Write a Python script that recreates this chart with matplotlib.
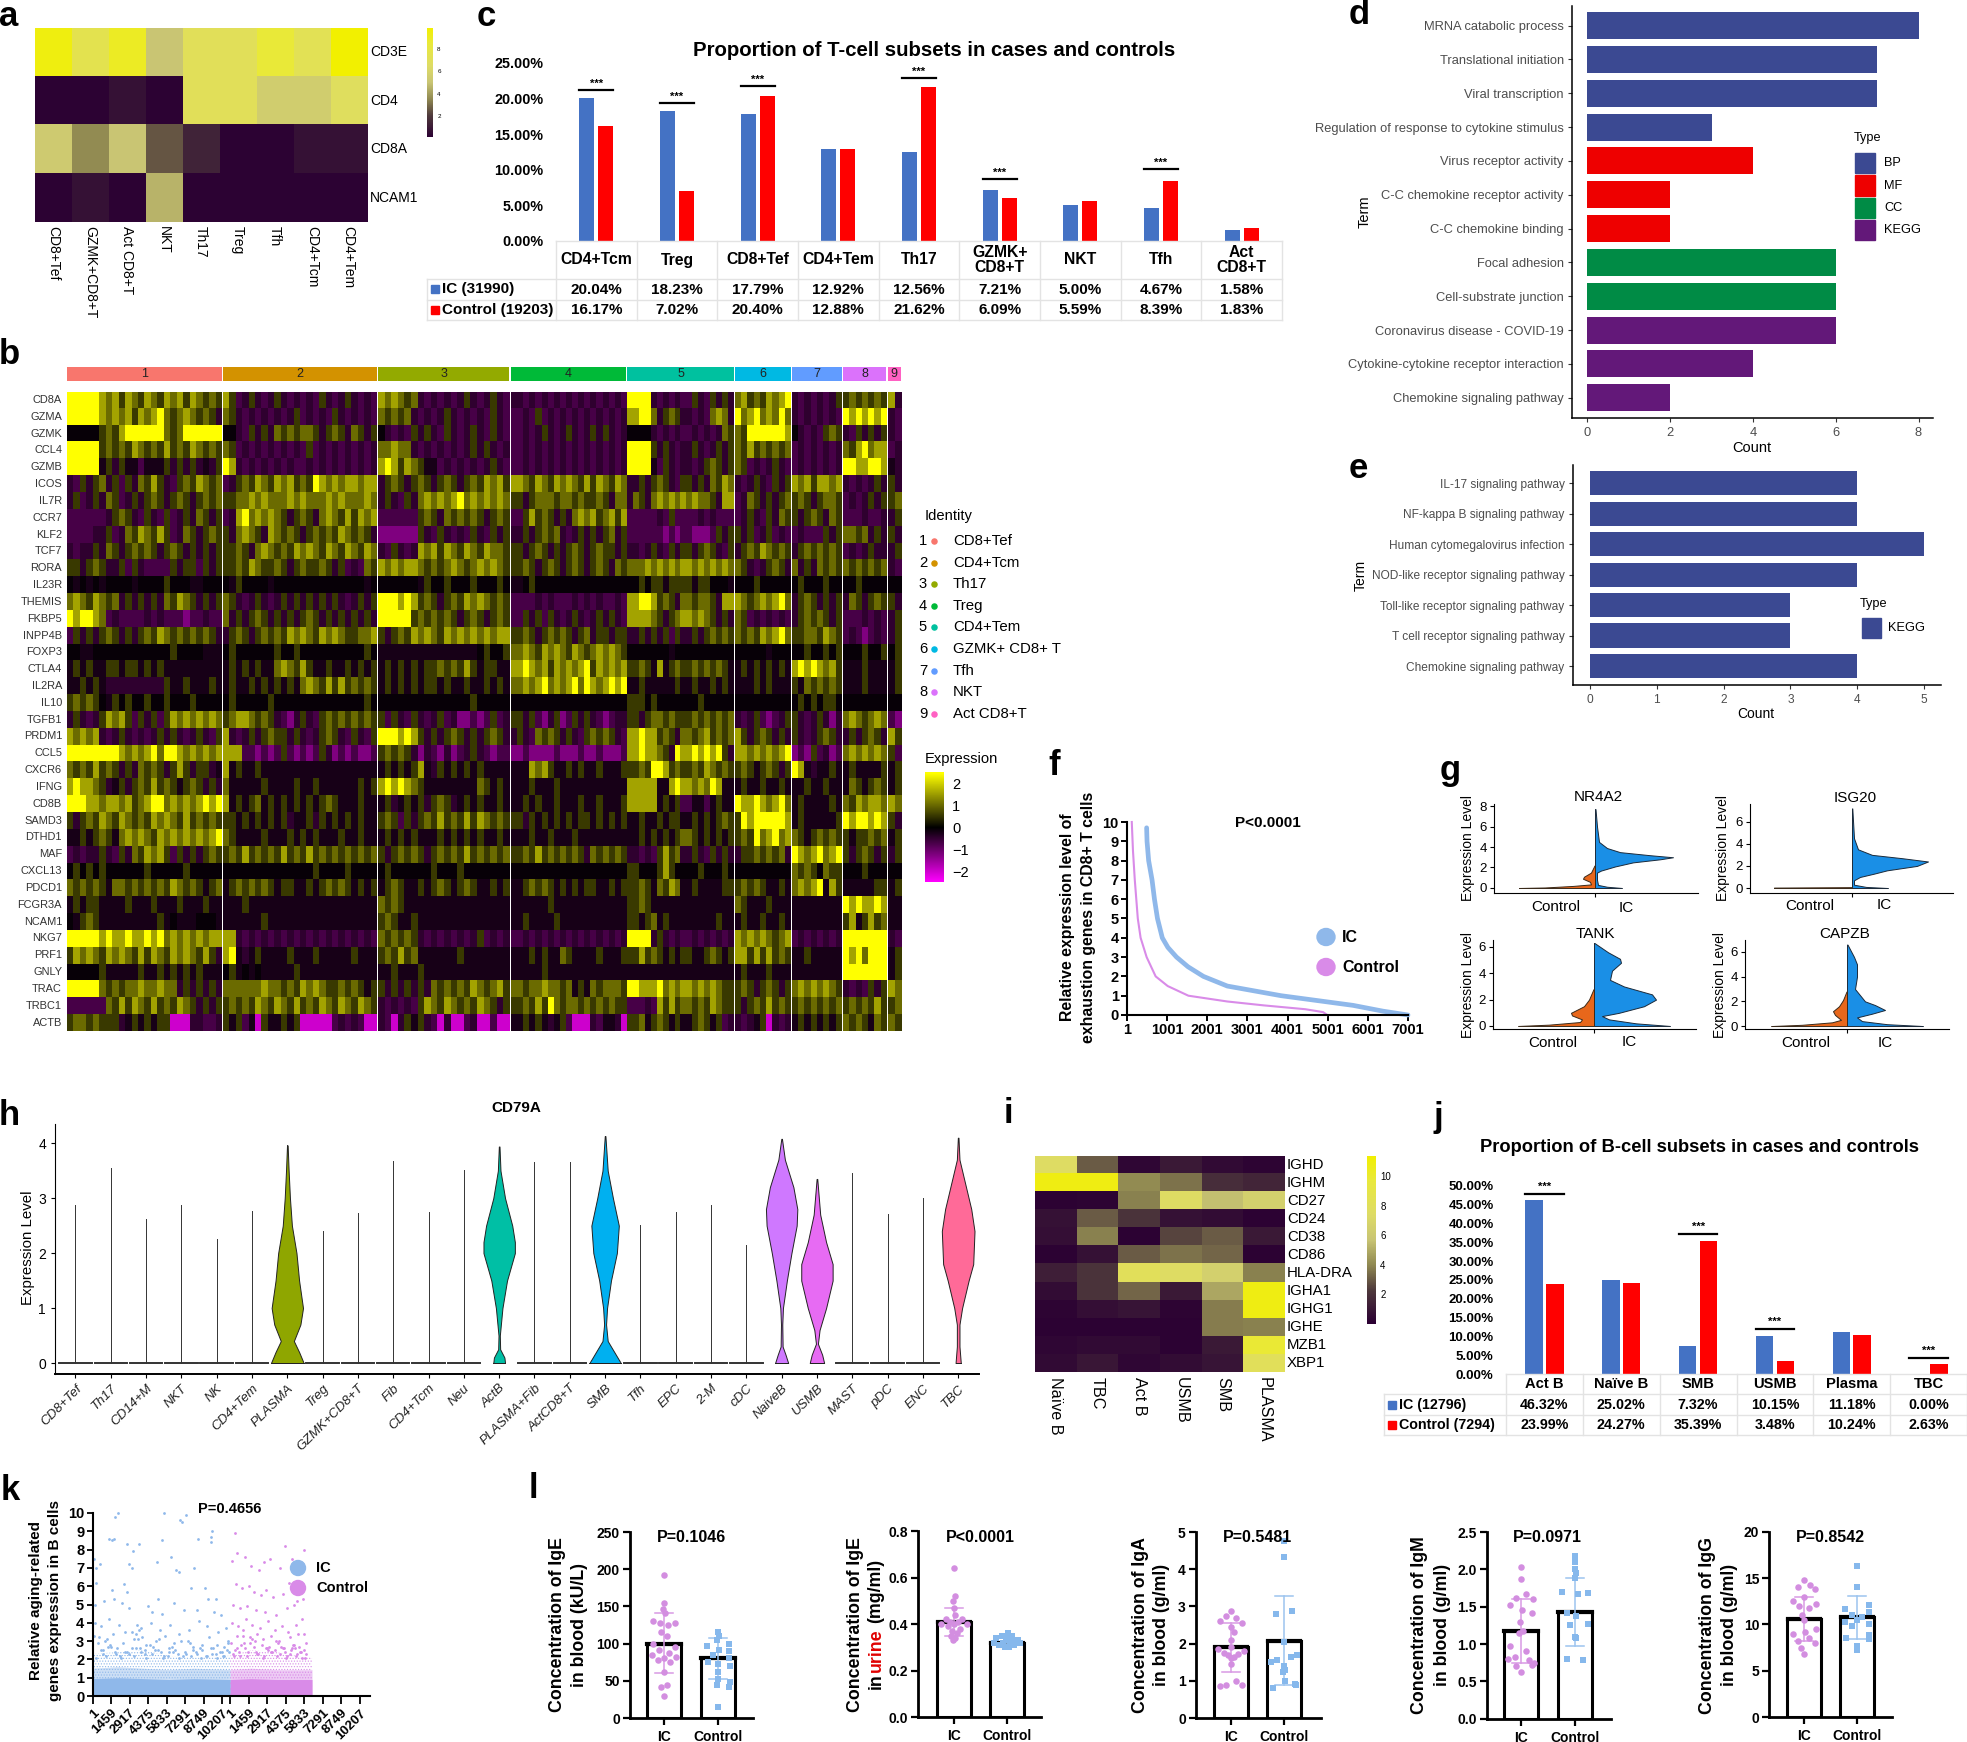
import numpy as np
import matplotlib
matplotlib.use('Agg')
import matplotlib.pyplot as plt
from matplotlib.colors import LinearSegmentedColormap
from matplotlib.patches import Rectangle, Ellipse

plt.rcParams['font.family'] = ['Liberation Sans', 'DejaVu Sans']
plt.rcParams['hatch.linewidth'] = .5

W, H = 1967, 1742
BLUE, RED = '#4472c4', '#ff0000'

# panel a
a_cols = ['CD8+Tef', 'GZMK+CD8+T', 'Act CD8+T', 'NKT', 'Th17', 'Treg', 'Tfh', 'CD4+Tcm', 'CD4+Tem']
a_genes = ['CD3E', 'CD4', 'CD8A', 'NCAM1']
a_vals = [[9.5, 7.5, 9.0, 5.0, 7.0, 7.0, 8.5, 7.2, 9.9],
          [0.1, 0.1, 0.6, 0.1, 7.0, 7.0, 5.5, 5.5, 6.8],
          [5.3, 3.5, 5.0, 2.5, 1.2, 0.1, 0.1, 0.6, 0.6],
          [0.1, 0.6, 0.1, 4.5, 0.1, 0.1, 0.1, 0.1, 0.1]]

# panel c
c_cats = ['CD4+Tcm', 'Treg', 'CD8+Tef', 'CD4+Tem', 'Th17', 'GZMK+\nCD8+T', 'NKT', 'Tfh', 'Act\nCD8+T']
c_ic = [20.04, 18.23, 17.79, 12.92, 12.56, 7.21, 5.00, 4.67, 1.58]
c_ctrl = [16.17, 7.02, 20.40, 12.88, 21.62, 6.09, 5.59, 8.39, 1.83]
c_sig_pos = [0, 1, 2, 4, 5, 7]
c_sig_y = [21.2, 19.4, 21.8, 22.9, 8.7, 10.1]

# panel d / e
d_terms = ['MRNA catabolic process', 'Translational initiation', 'Viral transcription',
           'Regulation of response to cytokine stimulus', 'Virus receptor activity',
           'C-C chemokine receptor activity', 'C-C chemokine binding', 'Focal adhesion',
           'Cell-substrate junction', 'Coronavirus disease - COVID-19',
           'Cytokine-cytokine receptor interaction', 'Chemokine signaling pathway']
d_counts = [8, 7, 7, 3, 4, 2, 2, 6, 6, 6, 4, 2]
d_types = ['BP', 'BP', 'BP', 'BP', 'MF', 'MF', 'MF', 'CC', 'CC', 'KEGG', 'KEGG', 'KEGG']
type_colors = {'BP': '#3b4992', 'MF': '#ee0000', 'CC': '#008b45', 'KEGG': '#631879'}
e_terms = ['IL-17 signaling pathway', 'NF-kappa B signaling pathway', 'Human cytomegalovirus infection',
           'NOD-like receptor signaling pathway', 'Toll-like receptor signaling pathway',
           'T cell receptor signaling pathway', 'Chemokine signaling pathway']
e_counts = [4, 4, 5, 4, 3, 3, 4]

# panel b, one string per gene, one group per cluster, read by eye from the crops
b_genes = ['CD8A', 'GZMA', 'GZMK', 'CCL4', 'GZMB', 'ICOS', 'IL7R', 'CCR7', 'KLF2', 'TCF7', 'RORA', 'IL23R',
           'THEMIS', 'FKBP5', 'INPP4B', 'FOXP3', 'CTLA4', 'IL2RA', 'IL10', 'TGFB1', 'PRDM1', 'CCL5', 'CXCR6',
           'IFNG', 'CD8B', 'SAMD3', 'DTHD1', 'MAF', 'CXCL13', 'PDCD1', 'FCGR3A', 'NCAM1', 'NKG7', 'PRF1',
           'GNLY', 'TRAC', 'TRBC1', 'ACTB']
b_rows = [
 'YYYYYyoybyobyobyoybyobob ybpdbdpdbdpdpdpbdpdbdpdp yoyobodpdpdpdbdpdbdp dpdpdpdpdpdpdpdpdp YYYdpdpdpbdpbdbd oybobyoyY dpdpdpdb bobobob yd',
 'YYYYYyoyoybyoyYoboyobobd obdpdpdpdpdbpdpdpbdpdpdp obobodpdpdbdpdpdpbdp pdpbpdpdpdpdpdpdpd yYYodbobdpdpoyod YoyYoyoYo dpdpdpdp YyYyYyY dp',
 'kkkkkbobyYYYYYYoboYYYYYY kkdpbdbdoboboobdbobdobdb kdpdpbdbdpbdpdbdpbdp pdpdbdpdbdpdbdbdpd kkkdpdpdpdpdpdob obYYYYYYy kdpdpbob dpbdbdb dp',
 'YYYYYbobobyobobybobyobob obpdpdpdpdpdpbpdpdpdpdpd ooyoodpdpdpdpdbdbdpd pdpdpdpdpdpdpdpdpd YYYbdbdpdbdpdbdb obybobobo pdpdpdpd obyYoyy pd',
 'YYYYYnbdbnnpnnnbdbdbdndb Yydpdpdpdpdppdpdpdpdpdpd yYybyobnnpdpdpdpdbdp pdpdpdpdpdpdpdpdpd YYYnpbdpdpdbobdb obpdpdbdp pdpdpdpd YYyyYYy nd',
 'dpbdbodbpbdobybdpbobyobo pdbobyobyoybobYyoyoyyoyy dbobdbobdbobdbobyoyb yobyobyoyobybyobyo dbdbobdpbdbdobyo dpdbdpbdb yoybyyoy dpdpdbd bd',
 'dbpdbdobpdbdbobdbobdbobo bbooyoyoooyoyoooyoyoooyo dbdpbdoyoyoyYoyoyoyo bdboooboobobbobdoo dobdoyoyoyoyoobdyy pdobdbdbo bobdboob pdpdbdb bo',
 'ppppppdbobdpbdpbpdbdobdb pdyYoyoyobdbobdoyobybyoy ppppppbobdobobobdbob pbybobdbdoyoyboyby ppppdpbpppdpdppp pdbdpbdob bdbobdob pppdppd db',
 'ppppddbpdobyobybpdobdbob bdoyobdyobobdbobobyobobd mmmmmmbdpbdpdpbdpbdb dbdbobodpdbdbdbodb pppppmpmpmmmpbdb bdbpdbpdp pdpppbdb oobodbd bd',
 'dpddbdobdbobobdbobdbdbdb bobdoyobobyoyobyobyobyo dpbdpdyoybyobyobyoob bdbobdbdbobdbobbdb dpdbdpbdbdbobdpb dbobyobob dbobobob pdpdbdd db',
 'bdbobdbpbdpppbdbpbdb bobyobbobdbobbobdbpdpob yoyoyyoboboyoboyoyob bobdbobdbobdbobdob ooyoyoyoyoyoyoyo obdpdbobd odbdobob obobobo dp',
 'knknknkkkknkkkkbkkknnkkk knbkkkknkkkkkkkkkkkkkknk kkkkkknbkkbkkkbkkkbk nkbkkkkkkkkkkkkkkk kbkbbnbbbnbbkkkn kkkbkkkkk kbkkkbkk kkbkkkk kk',
 'oyobyobodbdbdbdobyobdbdb obdpdbdpdbdbdbdbdbdpdbdb YYYyYybobdbobyoyobob pppdpdpppdpdpdppdp yYYybobdoboobdyy yoboyoyYo dbobdbdb dobdbob bd',
 'YyYYyopdppppdpdpppmppdpp odbdbobdbdbdbobdbdbdbdbd YYYYYbobobobdbobdbob pbdbpbdpdbdpdbdbdp yyyobdboyoyobdbd obpdpdpdp dbobobdb pppdpdp db',
 'pbdbdbobdbdbobyobobobobd dbobdbobobyoyobyoyobbooy bdbobyoyobyoyoyoyoyy bobdbobobdbodbbdbb dbdbdbpbdbdbobob obobyoyYo bboobyob pdpmpdp db',
 'kknnkkkkkkkkkkkkbkkkknnn kbkkkkkkbkkbkkkkkkkkkkbk nnnnnnnnnnnnnnnkbkkb oyobyoyobyoboyoyob kkkkkknkkkkkkkkk kkkkknkkk kkbkkbkb kkkbkkb kb',
 'nbnbnnbbnbbnbnbnnnnnnnnn nbnbnbnnoyobybnnbnnbnbnb nbnbnbnbbobobybnbbnn yYyoybyoyoyYbyoyoy bobnynbobobobobn nbnbnbnbn yYyYyoyb nnnbnnn nb',
 'nnbnbndddddddddbnnbnnnbn nbnnbnbnbnbnoyobybybobob nbnbnbnbbnbnnbnnbnbn oyoyYoyoyYoYyoyYyY nbnnnnnbnbnnbnbn nnnbnbnnn bnobobob nnnbnnn nb',
 'bobobknbkbkkbkkbkkkbkkkk kbkkkkkbkkkkkkkkkkkkkkbk kkkkkkkkkkkkkkbkkkkk kkkkkkkkkkkkkkkkkk bbkbkkkkkkbkkkkk kkkkkkkkk kbkbkbbk kkkkkkk kk',
 'dbdpdbyoybpbdbpbyoyoyoyo boyyobobdpmdbdpbobobobob bpbdpbdpdbpdmmpmpbpd bdbpmdbmpbdbdpmpdd bdboobobbobobobo dpdbpmpdb bdpdbdmd oyoboyo pm',
 'yoyoydpdbdpdpdbdbdpdbdpb ydpdbdbobbdbdpdbobdpbdpb YYYyYybdbdbobdbdbobd dbdpobobdbdpbobobdp yYyybobdoboybobo ybdbobdbd bdpdbobd dbdbobd yb',
 'YYYYYYYYyoyoyYoYYyoyoyoy yyyppmpmpbpmpmpbdmpmpmmp bobobdmdpmdmpdbdpmpp mpmmmmpmmmpmmpmmmp yYyyobdYyYyYyYbd yyoyoyoyY mpmbpdmp oyoyoyo bp',
 'obobybobdbdobobdbybdbbdn ynbnnbnnnnnnnnnnnnnnnnnn nbnbnbyndbnbnbnbnnnn nnyoybnnbnbnnbnnnb bobYYybobobyobob bobnbobdb Yyndnnbn nbnnnnb nb',
 'yYyyobdnbdbobybobnbobdbd onnnnnbnnnnbnnbnnnnnnbnb yYyYyobnnnnnnnnobnbn nnbnnnbnnnnnnnnnnn yyyynnyYyoyoYynn nbnnbnnbn nnbnnbnn nobnbob nb',
 'YYYyyoyyoyboyYYoyoyoyYyY ynbnbonbnbnbnbnbobnnnbnn nbdnbnbdbobdnbnbnnbn nbnbnnbnnnbnnbnnnb yyyynbnbpnnpnbnn YyyYyoyYo nbnnnnbn obyoyyo yo',
 'bdbobyobyobobyoyobybobob bbnbnbnbnbdnnbdbnbnbnbnn bobpbdbobybobybyobob bdbnbnbnbnbbnbnbnb nbnnbnbbnbnbnbob bYyYYYYYy nbnnnnnb YyYYyYy bd',
 'nbnbobnoyoyobyoyoyoyoyY obnnnnbnnnbnbnbnnnbnnbnn nbnbnbnnnbnbnbnbnnbn nnbnnbnnnbnnnnnnnn nbnbnbnbobnbnbnb bobYoyYoy obnbobob bnbbobo nb',
 'pdpddbdpbdobyoybpbdbdbob bobybobobybobybobobobobo bdbobobdbobobybobobo bobybobobobdobobob dpdpbybodbdpbdbd dbbobobod YyoyYoyY bdbobdb db',
 'kbkbkbkkkkkkbkkkkkbkkkkk kkkkkkkkkkkkkkbkkkkbkkkk kbkkkkkkbkkkbkkkkkkk kkkkkkkkkkkkkkkkkk bkkkbybkkkbkkkbk kkkkkkkkk obobkobb kkkbkkk kk',
 'obobobnoobobobobyobobnbo nbobobobnbbnnbnbobobnbnb nbobnnbnbobnbobnnbnb nbobobnbnbnbbnnbnb bobnobyonbnnnnbb bobobnnbn oyoyYnyb nnnnnbb nb',
 'nbnbbnnnnbnnnbnnnbnnnbnn nnnbnnnnnnnnnnnnnnnnnnnn obobnnnnnnnnnnnnnnnn nnnnnbnnnnnnnnnnnn bobnnnnnnnnnnnnn obnnnbnnn nnnnnnnn YyYyyYy nn',
 'knbobnnnnnnnnnbnknnnkkkn nnnnnnbnnnnnnnnnnnnnnnnn bobnnbnnnnnnnnnnnnnn nbnnnnbnnnnnnnnnnn bnbonbnnnnnnnbnn nbnnbnnbn nnnnnnnn bynbybo nn',
 'YYYYYyYyyYyyYyYoyoyoyoyy yydpdpdpdpdpdpdpdpdpdpdp obobobdpdpdpdpdbpdpd pdpdpdpdpdpdpdpdpd YYYdbdpdpdpdpdpd yoyoyoboy pdpdpdpd YYYYYYY dp',
 'byoyobyoyobybyobyoyobybd yYndnbnnnnbnnnbnnnnnbnnn bobybonnnnnnbnnnnnnn nnbnbnnobnnnnbnnnb bybobnbnbnnbobnb ybybybob nnbnnnnn YyYoYYY nb',
 'kkkkkbnnnnnbnnbnbnbnbnnn kbnknknnnnnbnnnnnnnnnnnn nnbnnnbnnnnnnnnnnnnn nnnnbnnnnnnnnnnnnn nnnnnnnnnnnnnnnn nbnnnbnnn nnnnnnnn YYYYYYY nb',
 'YYYYYobobooyooyoodbdbdbd oooooyoobobyoyobbobobnb bdbdbdbdobobobyoboyb obooyoobonbnobooob YyyyYoyoyoyoyobb bobdbobdb oyoyoyob dpdpbdb yo',
 'ppppppobybyobybobyobdbdb bobobyobyobybobyobyobyob dpdpdpbyobyobobyobdb bobybYobobobobobb ppdpybybobobyobb bdbobybob bobobobo bobobyb bo',
 'boobobbbdnbnbnbbMMMddppd bnbpnMbnnbnbMMMMMpdpdpMM dpMdbnbdpMdMMpdMMpMM nbnbndnbpMMMdpnndM bonbobnbnbobnbpd dpdnbMdpd nbnbnbnb obobnob ob',
]
b_levels = {'M': -2.0, 'm': -1.25, 'p': -0.7, 'd': -0.45, 'n': -0.22, 'k': -0.07, 'b': 0.55, 'o': 1.05, 'y': 1.6, 'Y': 2.5}
b_widths = [219, 218, 186, 163, 151, 79, 70, 61, 19]
b_strip = ['#F8766D', '#D39200', '#93AA00', '#00BA38', '#00C19F', '#00B9E3', '#619CFF', '#DB72FB', '#FF61C3']
b_ident = ['CD8+Tef', 'CD4+Tcm', 'Th17', 'Treg', 'CD4+Tem', 'GZMK+ CD8+ T', 'Tfh', 'NKT', 'Act CD8+T']

# panel f
f_ic_y = [9.7, 9.0, 8.0, 7.0, 6.0, 5.0, 4.0, 3.5, 3.0, 2.5, 2.0, 1.5, 1.0, 0.5, 0.2, 0.0]
f_ic_x = [490, 500, 540, 625, 685, 760, 880, 1020, 1235, 1520, 1905, 2500, 3840, 5630, 6375, 7001]
f_ct_y = [10, 8.5, 7.0, 5.0, 4.0, 3.0, 2.0, 1.5, 1.0, 0.7, 0.5, 0.3, 0.15, 0.0]
f_ct_x = [120, 150, 195, 270, 340, 490, 715, 1015, 1530, 2500, 3400, 4440, 4885, 4990]

# panel g, half widths of the violins
g_names = ['NR4A2', 'ISG20', 'TANK', 'CAPZB']
g_ic_y = [[0, .12, .3, .8, 1.5, 1.7, 2.1, 2.5, 2.8, 3.0, 3.2, 3.5, 3.9, 4.5, 6, 7.7],
          [0, .1, .3, .7, 1, 1.3, 1.6, 2, 2.4, 2.7, 3, 3.5, 4.5, 7.2],
          [0, .2, .5, .75, 1, 1.5, 2, 2.4, 3, 3.5, 4.2, 4.8, 5.1, 5.6, 6.3],
          [0, .15, .4, .7, 1, 1.3, 1.7, 2, 3, 4, 5, 5.6, 6.6]]
g_ic_w = [[27, 12, 3, 2, 2, 6, 20, 38, 65, 78, 55, 25, 12, 4, 2, .5],
          [36, 14, 2, 2, 8, 22, 35, 65, 76, 50, 20, 6, 2, .3],
          [76, 42, 15, 8, 25, 50, 62, 58, 30, 16, 18, 27, 26, 14, .5],
          [76, 40, 15, 10, 25, 38, 28, 18, 8, 10, 10, 7, .5]]
g_ct_y = [[0, .05, .2, .35, .6, .9, 1.1, 1.5, 2.2],
          [0, .04, .08],
          [0, .1, .3, .5, .8, 1, 1.5, 2, 2.8],
          [0, .1, .3, .5, .9, 1.2, 1.6, 2.1, 2.8]]
g_ct_w = [[76, 50, 22, 4, 5, 12, 11, 4, .5],
          [78, 78, 0],
          [76, 45, 14, 12, 22, 23, 10, 5, .5],
          [76, 45, 15, 6, 12, 14, 8, 4, .5]]

# panel h
h_cats = ['CD8+Tef', 'Th17', 'CD14+M', 'NKT', 'NK', 'CD4+Tem', 'PLASMA', 'Treg', 'GZMK+CD8+T', 'Fib', 'CD4+Tcm', 'Neu',
          'ActB', 'PLASMA+Fib', 'ActCD8+T', 'SMB', 'Tfh', 'EPC', '2-M', 'cDC', 'NaiveB', 'USMB', 'MAST', 'pDC', 'ENC', 'TBC']
h_tops = [2.88, 3.55, 2.62, 2.87, 2.26, 2.76, 3.96, 2.4, 2.73, 3.67, 2.74, 3.52, 3.94, 3.65, 3.66, 4.13, 2.52, 2.75,
          2.87, 2.15, 4.08, 3.35, 3.45, 2.72, 3.0, 4.1]
h_flat = [0, 1, 2, 3, 4, 5, 7, 8, 9, 10, 11, 13, 14, 16, 17, 18, 19, 22, 23, 24]
h_vio_pos = [6, 12, 15, 20, 21, 25]
h_vio_col = ['#8fa600', '#00bfa5', '#00b0f0', '#cf78ff', '#e76bf3', '#ff6a98']
h_vio_y = [[0, .2, .4, .7, 1.0, 1.5, 2, 2.5, 3, 3.5, 3.96],
           [0, .1, .25, .5, 1.0, 1.5, 2, 2.2, 2.5, 3, 3.5, 3.94],
           [0, .2, .4, .7, 1, 1.5, 2, 2.5, 3, 3.5, 4.13],
           [0, .15, .3, .7, 1, 1.5, 2, 2.5, 2.8, 3.2, 3.7, 4.08],
           [0, .15, .35, .6, 1, 1.5, 1.8, 2.2, 2.7, 3.35],
           [0, .3, .7, 1, 1.5, 1.8, 2.4, 2.8, 3.2, 3.7, 4.1]]
h_vio_w = [[25, 18, 10, 20, 24, 18, 14, 7, 4, 2, .5],
           [9, 8, 1.5, 1, 5, 12, 24, 24, 20, 9, 2, .5],
           [24, 14, 4, 1.5, 3, 9, 18, 21, 12, 4, .5],
           [10, 6, 1.5, 1, 2, 8, 15, 23, 24, 18, 5, .5],
           [11, 8, 1.5, 4, 14, 24, 24, 14, 5, .5],
           [4, 2, 2, 6, 16, 23, 25, 20, 12, 2, .5]]

# panel i
i_cols = ['Naïve B', 'TBC', 'Act B', 'USMB', 'SMB', 'PLASMA']
i_genes = ['IGHD', 'IGHM', 'CD27', 'CD24', 'CD38', 'CD86', 'HLA-DRA', 'IGHA1', 'IGHG1', 'IGHE', 'MZB1', 'XBP1']
i_vals = [[7.5, 3, .3, 1, .4, .2],
          [10.8, 10.8, 4, 3.5, 1.8, 1.5],
          [.1, .2, 3.8, 7.5, 5.5, 6.5],
          [.7, 3, 2, .7, .5, .1],
          [.6, 3.8, .1, 2.5, 3, 1],
          [.1, .7, 3, 3.5, 3.2, .1],
          [1.2, 2, 8, 7.5, 6.5, 3.8],
          [.5, 2, 3.2, 1, 4.8, 10.8],
          [.2, .6, .8, .2, 3.7, 10.8],
          [.1, .1, .1, .1, 3.7, 3.8],
          [.3, .4, .4, .1, 1, 9.8],
          [.4, .9, .3, .5, .8, 8]]

# panel j
j_cats = ['Act B', 'Naïve B', 'SMB', 'USMB', 'Plasma', 'TBC']
j_ic = [46.32, 25.02, 7.32, 10.15, 11.18, 0.00]
j_ctrl = [23.99, 24.27, 35.39, 3.48, 10.24, 2.63]
j_sig_pos = [0, 2, 3, 5]
j_sig_y = [47.9, 37.2, 12.0, 4.2]

# panel k, the loose points above the dense band
k_tick_pos = [1, 1459, 2917, 4375, 5833, 7291, 8749, 10207, 10861, 12319, 13777, 15235, 16693, 18151, 19609, 21067]
k_tick_lab = ['1', '1459', '2917', '4375', '5833', '7291', '8749', '10207'] * 2
k_ic_x = [1800, 2000, 5600, 6900, 7050, 7400, 8300, 9300, 9400, 1300, 1500, 1700, 2700, 5500, 9300, 3200, 3700, 6200,
          100, 300, 600, 2900, 3100, 5100, 6600, 6800, 8000, 8900, 300, 1500, 2500, 2700, 5200, 7800, 8200, 9100, 9700,
          200, 900, 1700, 2300, 2900, 4400, 4700, 5500, 6400, 7200, 9600, 10100, 200, 700, 1300, 2100, 3100, 3500, 3800,
          4600, 5300, 6100, 6800, 7600, 8400, 9000, 9900, 10500, 500, 1000, 1600, 2400, 3300, 3900, 4200, 5000, 5700,
          6300, 7000, 7700, 8500, 9200, 9800, 10400, 10700, 800, 1200, 1900, 2600, 3400, 4100, 4800, 5400, 6000, 6500,
          7300, 7900, 8600, 9500, 10200, 10600,
          150, 450, 850, 1150, 1450, 1750, 2150, 2550, 2850, 3150, 3450, 3550, 3650, 3850, 4150, 4550, 4950, 5250, 5650,
          6050, 6450, 6750, 7150, 7550, 7950, 8250, 8650, 8950, 9350, 9750, 10050, 10350, 10650, 250, 650, 1050, 1350,
          1850, 2250, 2750, 3250, 3750, 4250, 4650, 5150, 5550, 5950, 6350, 6850, 7350, 7750, 8150, 8550, 9050, 9450,
          9850, 10250, 10750]
k_ic_y = [9.8, 10, 10, 9.6, 9.5, 9.9, 8.6, 8.7, 9.0, 8.6, 8.5, 8.6, 8.3, 8.5, 8.4, 7.9, 8.3, 7.6, 7.5, 7.0, 7.2, 7.2,
          7.0, 7.3, 6.9, 6.8, 7.0, 5.9, 6.2, 5.8, 6.1, 5.7, 5.3, 5.9, 4.7, 5.3, 5.3, 5.0, 5.2, 5.3, 5.1, 4.8, 4.9, 4.6,
          4.5, 5.1, 4.7, 4.6, 4.4, 4.0, 3.8, 4.2, 3.9, 3.5, 3.9, 3.7, 4.0, 3.6, 3.9, 3.4, 3.6, 4.1, 3.8, 3.5, 3.7, 3.2,
          3.0, 3.4, 2.9, 3.1, 3.2, 2.8, 3.0, 3.3, 2.7, 3.0, 2.9, 2.6, 3.2, 2.8, 2.7, 3.0, 2.5, 2.7, 2.6, 2.4, 2.6, 2.5,
          2.7, 2.4, 2.6, 2.5, 2.4, 2.7, 2.5, 2.6, 2.4, 2.5,
          3.3, 2.9, 2.3, 3.1, 2.7, 2.4, 2.2, 3.5, 2.3, 2.6, 3.4, 3.1, 3.6, 2.4, 2.3, 2.8, 2.5, 3.1, 2.2, 2.4, 2.9, 2.3,
          2.2, 3.0, 2.5, 2.3, 2.8, 2.2, 2.6, 2.3, 2.4, 2.2, 2.9, 2.1, 2.5, 2.2, 2.8, 2.3, 2.1, 2.4, 2.2, 2.6, 2.1, 2.3,
          2.5, 2.1, 2.2, 2.4, 2.1, 2.3, 2.2, 2.4, 2.1, 2.2, 2.3, 2.1, 2.2, 2.4]
k_ct_x = [11200, 11400, 12000, 13500, 14000, 15200, 16700, 11000, 12500, 13100, 14800, 15700, 16400, 11300, 11800,
          12300, 12700, 13300, 13700, 14200, 15000, 15500, 16100, 16600, 11100, 11600, 12200, 12900, 13600, 14500,
          15300, 15900, 16500, 11000, 11500, 12100, 12600, 13200, 13800, 14400, 14900, 15400, 16000, 16700, 11400,
          11900, 12400, 13000, 13400, 14100, 14700, 15600, 16200, 16800, 10950, 11700, 12800, 13900, 14600, 15100,
          15800, 16300, 11250, 12050, 12850, 13650, 14350, 15150, 15950, 16650,
          11050, 11350, 11650, 11950, 12250, 12550, 12750, 13050, 13350, 13550, 13850, 14150, 14450, 14750, 15050,
          15350, 15650, 15850, 16150, 16450, 16750, 11150, 11550, 11850, 12150, 12450, 12950, 13450, 13750, 14050,
          14550, 14850, 15250, 15550, 15750, 16050, 16350, 16550, 16850]
k_ct_y = [8.9, 7.8, 7.6, 7.3, 7.5, 8.2, 8.0, 7.4, 7.1, 6.9, 7.0, 7.5, 7.2, 6.1, 5.9, 6.0, 5.7, 5.5, 5.8, 5.4, 5.6,
          6.2, 5.2, 5.3, 5.0, 4.8, 4.9, 4.7, 4.6, 4.4, 4.8, 5.0, 4.2, 4.0, 3.8, 4.2, 3.9, 3.7, 4.1, 3.6, 3.8, 3.5, 3.9,
          3.4, 3.3, 3.6, 3.2, 3.4, 3.1, 3.3, 3.0, 3.2, 3.4, 2.9, 2.9, 2.8, 3.0, 2.7, 2.9, 2.6, 2.8, 2.7, 2.5, 2.6, 2.4,
          2.6, 2.5, 2.4, 2.6, 2.5,
          2.3, 2.6, 2.2, 2.9, 2.4, 3.1, 2.7, 2.3, 2.8, 2.2, 2.5, 2.4, 3.0, 2.3, 2.6, 2.2, 2.5, 2.8, 2.3, 2.4, 2.1, 2.2,
          2.4, 3.3, 2.2, 2.9, 2.3, 2.1, 2.6, 2.4, 2.2, 2.7, 2.1, 2.3, 2.6, 2.2, 2.4, 2.1, 2.3]
k_band_ic_x = [0, 2000, 4000, 6000, 8000, 10860]
k_band_ic_solid = [.95, 1.0, .95, .9, .95, .9]
k_band_ic_top = [2.3, 2.4, 2.5, 2.2, 2.1, 2.2]
k_band_ct_x = [10860, 12500, 14500, 16000, 17300]
k_band_ct_solid = [.9, .95, .9, .9, .9]
k_band_ct_top = [2.2, 2.5, 2.4, 2.2, 2.1]

# panel l
l_titles = ['P=0.1046', 'P<0.0001', 'P=0.5481', 'P=0.0971', 'P=0.8542']
l_means = [[100, 80], [.41, .32], [1.9, 2.08], [1.17, 1.43], [10.6, 10.75]]
l_sd_lo = [[60, 52], [.35, .30], [1.25, .9], [.75, .98], [8.2, 8.4]]
l_sd_hi = [[141, 108], [.47, .34], [2.55, 3.28], [1.6, 1.88], [13, 13.1]]
l_ymax = [250, .8, 5, 2.5, 20]
l_yticks = [[0, 50, 100, 150, 200, 250], [0, .2, .4, .6, .8], [0, 1, 2, 3, 4, 5], [0, .5, 1, 1.5, 2, 2.5], [0, 5, 10, 15, 20]]
l_yfmt = ['{:.0f}', '{:.1f}', '{:.0f}', '{:.1f}', '{:.0f}']
l_ic_y = [[192, 155, 147, 141, 130, 128, 128, 125, 115, 110, 100, 95, 92, 88, 85, 82, 80, 78, 75, 62, 45, 42, 30],
          [.64, .52, .50, .47, .44, .42, .42, .41, .41, .40, .40, .40, .39, .38, .37, .36, .35, .34, .33],
          [2.88, 2.75, 2.7, 2.6, 2.55, 2.45, 2.3, 2.1, 1.9, 1.85, 1.8, 1.75, 1.72, 1.7, 1.65, 1.6, 1.45, 1.0, .9, .88, .85],
          [2.03, 1.87, 1.67, 1.62, 1.6, 1.52, 1.45, 1.42, 1.3, 1.17, 1.15, .97, .9, .82, .8, .78, .75, .72, .7, .62],
          [14.8, 14.2, 14, 13.8, 13, 12.5, 12.2, 12, 11.8, 11, 10.5, 9.5, 9.2, 9, 8.5, 8.2, 8, 7.5, 6.8]]
l_ic_x = [[0, 0, -.01, .02, -.2, .2, -.08, .08, -.05, .05, -.2, .2, -.1, .1, -.22, .22, 0, -.12, .12, 0, .06, -.06, 0],
          [0, .02, -.02, 0, .02, -.16, .16, -.08, .08, -.24, .24, 0, -.12, .12, -.04, .06, -.06, .02, -.02],
          [0, -.1, .1, -.2, .2, 0, .06, 0, 0, -.24, .24, -.14, .14, -.06, .06, 0, 0, .1, -.1, .2, -.2],
          [0, 0, .1, -.1, .22, -.2, .02, .2, -.02, .04, -.04, -.2, .1, -.12, -.24, .14, .24, .2, -.1, 0],
          [0, .12, -.12, .2, 0, -.2, .22, -.1, .1, -.04, 0, .22, .02, -.2, .1, -.12, .2, -.06, 0]]
l_ct_y = [[116, 110, 105, 100, 97, 92, 90, 85, 80, 75, 72, 70, 62, 52, 48, 45, 42, 15],
          [.36, .35, .35, .34, .34, .33, .33, .33, .32, .32, .32, .31, .31, .31, .30, .30],
          [4.75, 4.33, 2.88, 2.8, 2.05, 1.7, 1.65, 1.55, 1.5, 1.4, 1.3, 1.25, 1.0, .92, .88, .8],
          [2.18, 2.1, 2.0, 1.95, 1.88, 1.7, 1.68, 1.67, 1.42, 1.38, 1.27, 1.25, 1.1, 1.08, .8, .78],
          [16.3, 14, 12.1, 11.7, 11.3, 11, 10.8, 10.5, 10.2, 10, 9.8, 8.8, 8.5, 8.4, 7.7, 7.2]]
l_ct_x = [[0, .02, -.02, .2, -.2, .02, .2, -.1, .2, -.18, 0, .22, 0, 0, .22, -.02, .2, 0],
          [.02, -.1, .1, .02, -.2, .2, -.02, .1, -.24, .24, -.08, .14, -.16, .06, -.04, .04],
          [0, 0, .16, -.16, 0, .24, .14, -.14, -.24, 0, .02, -.02, .02, .2, .22, -.2],
          [0, 0, 0, .02, 0, -.24, .24, .06, -.14, .02, .24, -.1, 0, .02, -.14, .14],
          [0, 0, .22, -.22, .22, -.1, .1, 0, -.22, .22, -.1, .22, -.2, .22, 0, 0]]
l_ylab = [('Concentration of IgE', 'in blood (kU/L)'), ('Concentration of IgE', None), ('Concentration of IgA', 'in blood (g/ml)'),
          ('Concentration of IgM', 'in blood (g/ml)'), ('Concentration of IgG', 'in blood (g/ml)')]

fig = plt.figure(figsize=(W / 100, H / 100), dpi=100)


def pax(l, t, r, b):
    # axes from pixel box of the reference
    return fig.add_axes([l / W, 1 - b / H, (r - l) / W, (b - t) / H])


ov = fig.add_axes([0, 0, 1, 1], zorder=20)
ov.set_xlim(0, W)
ov.set_ylim(H, 0)
ov.axis('off')


def T(x, y, s, size=10, ha='center', va='center', **kw):
    ov.text(x, y, s, fontsize=size, ha=ha, va=va, **kw)


for lab, x, y in [('a', 9, 17), ('b', 9, 354), ('c', 486, 17), ('d', 1359, 14), ('e', 1358, 468), ('f', 1054, 765),
                  ('g', 1450, 770), ('h', 9, 1115), ('i', 1008, 1113), ('j', 1438, 1117), ('k', 10, 1490), ('l', 533, 1488)]:
    T(x, y, lab, size=25, fontweight='bold')

heat_cm = LinearSegmentedColormap.from_list('heat', [(0, '#2b0033'), (.2, '#4f3a3c'), (.35, '#918a52'), (.5, '#c9c574'),
                                                     (.65, '#dedc66'), (.85, '#e9e93c'), (1, '#f2f000')])


def small_cbar(l, t, r, b, vmin, vmax, ticks, size):
    cax = pax(l, t, r, b)
    cax.imshow(np.linspace(vmax, vmin, 200)[:, None], aspect='auto', cmap=heat_cm, vmin=0, vmax=vmax,
               extent=(0, 1, vmin, vmax))
    cax.set_xticks([])
    cax.yaxis.tick_right()
    cax.set_yticks(ticks)
    cax.tick_params(axis='y', length=0, labelsize=size, pad=3)
    for s in cax.spines.values():
        s.set_visible(False)


# a
ax = pax(35, 28, 367, 222)
ax.imshow(a_vals, aspect='auto', cmap=heat_cm, vmin=0, vmax=9.9, interpolation='nearest')
ax.axis('off')
for i, g in enumerate(a_genes):
    T(370, 28 + (i + .5) * 48.5, g, size=10, ha='left')
for i, c in enumerate(a_cols):
    T(35 + (i + .5) * 36.9, 226, c, size=10, rotation=270, va='top')
small_cbar(427, 28, 433, 137, .09, 9.9, [2, 4, 6, 8], 4.5)


def prop_panel(box, cats, ic, ctrl, ymax, ticks, sig_pos, sig_y, w, off, size, star_dy):
    ax = pax(*box)
    xs = np.arange(len(cats)) + .5
    ax.bar(xs - off, ic, w, color=BLUE)
    ax.bar(xs + off, ctrl, w, color=RED)
    ax.set_xlim(0, len(cats))
    ax.set_ylim(0, ymax)
    ax.set_xticks([])
    ax.set_yticks(ticks)
    ax.set_yticklabels(['%.2f%%' % t for t in ticks], fontsize=size, fontweight='bold')
    ax.tick_params(axis='y', length=0, pad=9)
    for s in ax.spines.values():
        s.set_visible(False)
    ax.patch.set_alpha(0)
    for p, y in zip(sig_pos, sig_y):
        ax.plot([p + .5 - off - w / 2, p + .5 + off + w / 2], [y, y], color='k', lw=1.6)
        ax.text(p + .5, y + star_dy, '***', ha='center', va='center', fontsize=8, fontweight='bold')
    return ax


def prop_table(x0, x1, x2, y0, y1, y2, y3, cats, ic, ctrl, names, size):
    cw = (x2 - x1) / len(cats)
    for y, a in [(y0, x1), (y1, x0), (y2, x0), (y3, x0)]:
        ov.plot([a, x2], [y, y], color='#e3e3e3', lw=1)
    for i in range(len(cats) + 1):
        ov.plot([x1 + i * cw] * 2, [y0, y3], color='#e3e3e3', lw=1)
    ov.plot([x0, x0], [y1, y3], color='#e3e3e3', lw=1)
    rows = [(names[0], ic, BLUE, (y1 + y2) / 2), (names[1], ctrl, RED, (y2 + y3) / 2)]
    for i, c in enumerate(cats):
        T(x1 + (i + .5) * cw, (y0 + y1) / 2, c, size=size + .3, fontweight='bold', linespacing=1.05)
    for name, vals, col, y in rows:
        ov.add_patch(Rectangle((x0 + 4, y - 4), 8, 8, color=col))
        T(x0 + 15, y, name, size=size, ha='left', fontweight='bold')
        for i, v in enumerate(vals):
            T(x1 + (i + .5) * cw, y, '%.2f%%' % v, size=size, fontweight='bold')


# c
prop_panel((556, 63, 1282, 241), c_cats, c_ic, c_ctrl, 25, [0, 5, 10, 15, 20, 25], c_sig_pos, c_sig_y, .186, .118, 10.4, .9)
prop_table(427, 556, 1282, 241, 279, 300, 320, c_cats, c_ic, c_ctrl, ['IC (31990)', 'Control (19203)'], 11)
T(934, 51, 'Proportion of T-cell subsets in cases and controls', size=14.7, fontweight='bold')


# d, e
def term_panel(box, terms, counts, cols, xlim, ylim, ticks, size):
    ax = pax(*box)
    ax.barh(np.arange(len(terms)), counts, .8, color=cols)
    ax.set_xlim(*xlim)
    ax.set_ylim(*ylim)
    ax.set_xticks(ticks)
    ax.set_yticks(np.arange(len(terms)))
    ax.set_yticklabels(terms, fontsize=size, color='#4d4d4d')
    ax.tick_params(axis='x', labelsize=size, labelcolor='#4d4d4d', length=3, color='#333333')
    ax.tick_params(axis='y', length=3, color='#333333', pad=3)
    ax.spines[['top', 'right']].set_visible(False)
    ax.spines[['left', 'bottom']].set_linewidth(1.1)
    return ax


term_panel((1572, 6, 1933, 418), d_terms, d_counts, [type_colors[t] for t in d_types], (-.37, 8.35), (11.6, -.58),
           [0, 2, 4, 6, 8], 9.3)
T(1752, 448, 'Count', size=10.5)
T(1365, 212, 'Term', size=10.5, rotation=90)
T(1868, 138, 'Type', size=9.2)
for i, t in enumerate(['BP', 'MF', 'CC', 'KEGG']):
    ov.add_patch(Rectangle((1855, 153 + i * 22.3), 20, 20.5, color=type_colors[t]))
    T(1884, 163.5 + i * 22.3, t, size=9.2, ha='left')

term_panel((1573, 465, 1941, 685), e_terms, e_counts, [type_colors['BP']] * 7, (-.25, 5.25), (6.62, -.6),
           [0, 1, 2, 3, 4, 5], 8.6)
T(1756, 714, 'Count', size=10)
T(1361, 575, 'Term', size=10, rotation=90)
T(1874, 604, 'Type', size=9.2)
ov.add_patch(Rectangle((1862, 618), 19, 20, color=type_colors['BP']))
T(1888, 628, 'KEGG', size=9.2, ha='left')

# b
bcm = LinearSegmentedColormap.from_list('py', ['#ff00ff', '#000000', '#ffff00'])
strip = pax(67, 367, 901, 381)
ax = pax(67, 391.5, 901, 1031)
left = 0
total = sum(b_widths) + 2 * (len(b_widths) - 1)
split = [r.split() for r in b_rows]
for c, wd in enumerate(b_widths):
    n = max(len(r[c]) for r in split)
    img = np.zeros((len(b_genes), n))
    for i, r in enumerate(split):
        s = r[c]
        img[i] = [b_levels[s[j * len(s) // n]] for j in range(n)]
    ax.imshow(img, aspect='auto', cmap=bcm, vmin=-2.5, vmax=2.5, interpolation='nearest',
              extent=(left, left + wd, len(b_genes), 0))
    strip.bar(left + wd / 2, 1, wd, color=b_strip[c])
    strip.text(left + wd / 2, .5, str(c + 1), ha='center', va='center', fontsize=9, color='#222222')
    left += wd + 2
ax.set_xlim(0, total)
ax.set_ylim(len(b_genes), 0)
ax.axis('off')
strip.set_xlim(0, total)
strip.set_ylim(0, 1)
strip.axis('off')
for i, g in enumerate(b_genes):
    T(62, 391.5 + (i + .5) * 639.5 / len(b_genes), g, size=7.9, ha='right', color='#333333')
T(925, 516, 'Identity', size=10.6, ha='left')
for i, name in enumerate(b_ident):
    y = 541 + i * 21.6
    T(923, y, str(i + 1), size=10.6)
    ov.scatter([934], [y], s=22, color=b_strip[i], lw=0)
    T(953, y, name, size=10.8, ha='left')
T(925, 759, 'Expression', size=10.6, ha='left')
cax = pax(925, 772, 944, 882)
cax.imshow(np.linspace(2.55, -2.5, 200)[:, None], aspect='auto', cmap=bcm, vmin=-2.5, vmax=2.5, extent=(0, 1, -2.5, 2.55))
cax.set_xticks([])
cax.yaxis.tick_right()
cax.set_yticks([-2, -1, 0, 1, 2])
cax.set_yticklabels(['\u22122', '\u22121', '0', '1', '2'], fontsize=10.5)
cax.tick_params(axis='y', length=0, pad=6)
for s in cax.spines.values():
    s.set_visible(False)

# f
ax = pax(1127, 822, 1408, 1015)
ax.plot(f_ic_x, f_ic_y, color='#8fb8ea', lw=3.4, clip_on=False, solid_capstyle='round')
ax.plot(f_ct_x, f_ct_y, color='#d98be8', lw=1.5, clip_on=False)
ax.set_xlim(1, 7001)
ax.set_ylim(0, 10)
ax.set_xticks([1, 1001, 2001, 3001, 4001, 5001, 6001, 7001])
ax.set_yticks(range(11))
ax.tick_params(labelsize=10.5, width=1.4, length=4, pad=2)
for t in ax.get_xticklabels() + ax.get_yticklabels():
    t.set_fontweight('bold')
ax.spines[['top', 'right']].set_visible(False)
ax.spines[['left', 'bottom']].set_linewidth(1.5)
T(1067, 917, 'Relative expression level of', size=11.4, rotation=90, fontweight='bold')
T(1088, 917, 'exhaustion genes in CD8+ T cells', size=11.4, rotation=90, fontweight='bold')
T(1268, 823, 'P<0.0001', size=11, fontweight='bold')
ov.add_patch(Ellipse((1326, 937), 18, 17, color='#8fb8ea'))
ov.add_patch(Ellipse((1326, 967), 18, 17, color='#d98be8'))
T(1342, 937, 'IC', size=11.5, ha='left', fontweight='bold')
T(1342, 967, 'Control', size=11.5, ha='left', fontweight='bold')

# g
g_boxes = [(1494, 804, 1698, 893), (1750, 804, 1953, 893), (1493, 940, 1696, 1029), (1745, 940, 1949, 1029)]
g_mid = [1595, 1852, 1594, 1847]
g_ylim = [(-.49, 8.2), (-.45, 7.6), (-.23, 6.53), (-.24, 6.97)]
g_ticks = [[0, 2, 4, 6, 8], [0, 2, 4, 6], [0, 2, 4, 6], [0, 2, 4, 6]]
g_text = [(1556, 907, 1626, 908, 1598, 797, 1468, 848), (1810, 906, 1884, 905, 1855, 798, 1723, 848),
          (1553, 1043, 1629, 1042, 1595, 934, 1468, 985), (1806, 1043, 1885, 1043, 1845, 934, 1720, 985)]
for i in range(4):
    ax = pax(*g_boxes[i])
    ax.fill_betweenx(g_ic_y[i], 0, g_ic_w[i], color='#1a8fe6', ec='#1b2a3a', lw=.7)
    ax.fill_betweenx(g_ct_y[i], 0, -np.array(g_ct_w[i]), color='#e8671b', ec='#3a2a1a', lw=.7)
    ax.set_xlim(g_boxes[i][0] - g_mid[i], g_boxes[i][2] - g_mid[i])
    ax.set_ylim(*g_ylim[i])
    ax.set_xticks([0])
    ax.set_xticklabels([])
    ax.set_yticks(g_ticks[i])
    ax.tick_params(labelsize=9.5, length=3, pad=2)
    ax.spines[['top', 'right']].set_visible(False)
    ax.patch.set_alpha(0)
    cx, cy, ix, iy, tx, ty, yx, yy = g_text[i]
    T(cx, cy, 'Control', size=11)
    T(ix, iy, 'IC', size=11)
    T(tx, ty, g_names[i], size=11)
    T(yx, yy, 'Expression Level', size=10, rotation=90)

# h
ax = pax(55, 1124, 979, 1374)
for p, top in zip(range(len(h_cats)), h_tops):
    ax.plot([p, p], [0, top], color='#333333', lw=.7)
for p in h_flat:
    ax.plot([p - .46, p + .46], [0, 0], color='#333333', lw=1.4)
for p, y, wd, col in zip(h_vio_pos, h_vio_y, h_vio_w, h_vio_col):
    hw = np.array(wd) / 54
    ax.fill_betweenx(y, p - hw, p + hw, color=col, ec='#222222', lw=.7, zorder=3)
    ax.plot([p - hw[0], p + hw[0]], [0, 0], color='#222222', lw=.7, zorder=4)
ax.set_xlim(-.58, 25.59)
ax.set_ylim(-.2, 4.35)
ax.set_xticks(range(len(h_cats)))
ax.set_xticklabels(h_cats, rotation=45, ha='right', rotation_mode='anchor', fontsize=9.5, style='italic', color='#222222')
ax.set_yticks([0, 1, 2, 3, 4])
ax.tick_params(axis='y', labelsize=10, length=3)
ax.tick_params(axis='x', length=3, pad=3)
ax.spines[['top', 'right']].set_visible(False)
ax.spines['bottom'].set_linewidth(1.4)
T(28, 1248, 'Expression Level', size=10.8, rotation=90)
T(516, 1108, 'CD79A', size=11, fontweight='bold')

# i
ax = pax(1035, 1156, 1285, 1372)
ax.imshow(i_vals, aspect='auto', cmap=heat_cm, vmin=0, vmax=11.35, interpolation='nearest')
ax.axis('off')
for i, g in enumerate(i_genes):
    T(1287, 1156 + (i + .5) * 18, g, size=10.8, ha='left')
for i, c in enumerate(i_cols):
    T(1035 + (i + .5) * 41.67, 1377, c, size=11.6, rotation=270, va='top')
small_cbar(1367, 1156, 1376, 1324, 0, 11.35, [2, 4, 6, 8, 10], 7)

# j
prop_panel((1506, 1186, 1967, 1374), j_cats, j_ic, j_ctrl, 50, list(range(0, 55, 5)), j_sig_pos, j_sig_y, .228, .135, 9.5, 2)
prop_table(1384, 1506, 1967, 1374, 1394, 1415, 1435, j_cats, j_ic, j_ctrl, ['IC (12796)', 'Control (7294)'], 10.3)
T(1699, 1147, 'Proportion of B-cell subsets in cases and controls', size=13.2, fontweight='bold')

# k
ax = pax(92.5, 1513, 370, 1696)
ax.fill_between(k_band_ic_x, 0, k_band_ic_top, facecolor='none', edgecolor='#8fb8ea', hatch='......', lw=0)
ax.fill_between(k_band_ic_x, 0, np.array(k_band_ic_solid) * 1.6, color='#8fb8ea', alpha=.45, lw=0)
ax.fill_between(k_band_ic_x, 0, k_band_ic_solid, color='#8fb8ea', lw=0)
ax.fill_between(k_band_ct_x, 0, k_band_ct_top, facecolor='none', edgecolor='#d98be8', hatch='......', lw=0)
ax.fill_between(k_band_ct_x, 0, np.array(k_band_ct_solid) * 1.6, color='#d98be8', alpha=.45, lw=0)
ax.fill_between(k_band_ct_x, 0, k_band_ct_solid, color='#d98be8', lw=0)
ax.scatter(k_ic_x, k_ic_y, s=4, color='#8fb8ea', lw=0, clip_on=False)
ax.scatter(k_ct_x, k_ct_y, s=4, color='#d98be8', lw=0, clip_on=False)
ax.set_xlim(0, 21870)
ax.set_ylim(0, 10)
ax.set_xticks(k_tick_pos)
ax.set_xticklabels(k_tick_lab, rotation=45, ha='right', rotation_mode='anchor', fontsize=9.5, fontweight='bold')
ax.set_yticks(range(11))
ax.tick_params(axis='y', labelsize=10.5, width=1.3, length=4, pad=2)
ax.tick_params(axis='x', width=1.3, length=6, pad=2)
for t in ax.get_yticklabels():
    t.set_fontweight('bold')
ax.spines[['top', 'right']].set_visible(False)
ax.spines[['left', 'bottom']].set_linewidth(1.5)
T(36, 1600, 'Relative aging-related', size=11, rotation=90, fontweight='bold')
T(55, 1600, 'genes expression in B cells', size=11, rotation=90, fontweight='bold')
T(230, 1509, 'P=0.4656', size=10.5, fontweight='bold')
ov.add_patch(Ellipse((298, 1568), 15, 15, color='#8fb8ea'))
ov.add_patch(Ellipse((298, 1588), 15, 15, color='#d98be8'))
T(316, 1568, 'IC', size=10.5, ha='left', fontweight='bold')
T(316, 1588, 'Control', size=10.5, ha='left', fontweight='bold')

# l
l_axes = [(629.5, 1532, 752.5, 1718, 664, 718, 691, 557, 579), (918, 1531, 1041, 1717, 954, 1007, 980, 855, 876),
          (1195.5, 1532, 1320.7, 1718, 1231, 1284, 1257, 1140.6, 1161.6), (1486.6, 1532, 1610.5, 1718.7, 1521, 1575, 1547.6, 1419, 1442),
          (1769, 1531.7, 1892, 1717, 1804, 1857, 1830.7, 1707, 1729)]
for i, (l, t, r, b, c0, c1, tx, y1, y2) in enumerate(l_axes):
    ax = pax(l, t, r, b)
    unit = c1 - c0
    ax.bar([0, 1], l_means[i], 34 / unit, color='white', ec='k', lw=2.2, zorder=1)
    ax.plot([-.31, .31], [l_means[i][0]] * 2, color='k', lw=3, zorder=2)
    ax.plot([.69, 1.31], [l_means[i][1]] * 2, color='k', lw=3, zorder=2)
    for p, col in zip([0, 1], ['#d89ae4', '#9cc4ef']):
        ax.plot([p, p], [l_sd_lo[i][p], l_sd_hi[i][p]], color=col, lw=1.1, zorder=3)
        for v in (l_sd_lo[i][p], l_sd_hi[i][p]):
            ax.plot([p - .17, p + .17], [v, v], color=col, lw=1.1, zorder=3)
    ax.scatter(l_ic_x[i], l_ic_y[i], s=22, marker='o', color='#d38ee0', lw=0, zorder=4, clip_on=False)
    ax.scatter(np.array(l_ct_x[i]) + 1, l_ct_y[i], s=18, marker='s', color='#86b8ec', lw=0, zorder=4, clip_on=False)
    ax.set_xlim((l - c0) / unit, (r - c0) / unit)
    ax.set_ylim(0, l_ymax[i])
    ax.set_xticks([0, 1])
    ax.set_xticklabels(['IC', 'Control'], fontsize=10, fontweight='bold')
    ax.set_yticks(l_yticks[i])
    ax.set_yticklabels([l_yfmt[i].format(v) for v in l_yticks[i]], fontsize=10, fontweight='bold')
    ax.tick_params(width=1.6, length=5, pad=2)
    ax.tick_params(axis='x', pad=3.5)
    ax.spines[['top', 'right']].set_visible(False)
    ax.spines[['left', 'bottom']].set_linewidth(2)
    ax.patch.set_alpha(0)
    T(tx, 1537, l_titles[i], size=11.5, fontweight='bold')
    T(y1, 1625, l_ylab[i][0], size=12.8, rotation=90, fontweight='bold')
    if l_ylab[i][1]:
        T(y2, 1625, l_ylab[i][1], size=12.8, rotation=90, fontweight='bold')
T(876, 1689, 'in', size=12.8, rotation=90, va='bottom', fontweight='bold')
T(876, 1672, 'urine', size=12.8, rotation=90, va='bottom', fontweight='bold', color='#e00000')
T(876, 1623, '(mg/ml)', size=12.8, rotation=90, va='bottom', fontweight='bold')

fig.savefig('out.png', dpi=100)
